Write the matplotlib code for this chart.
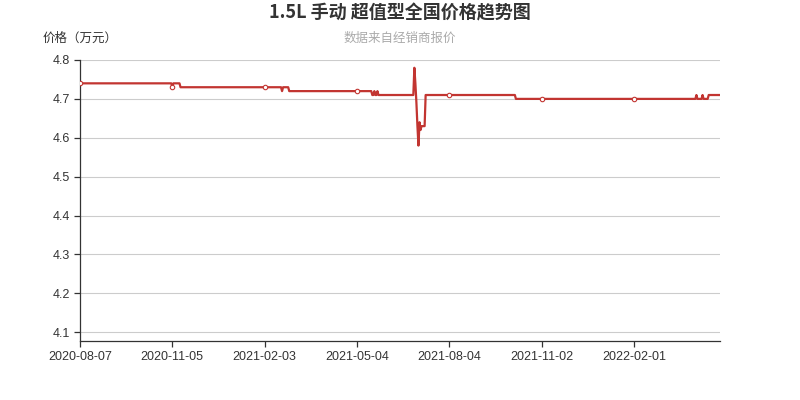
import numpy as np
import matplotlib
matplotlib.use("Agg")
import matplotlib.pyplot as plt

plt.rcParams["font.family"] = ["Liberation Sans", "Noto Sans CJK SC", "DejaVu Sans"]

g_title = "1.5L 手动 超值型全国价格趋势图"
g_subtitle = "数据来自经销商报价"
g_ylabel = "价格（万元）"

# price runs: value held for a number of consecutive days (category points)
run_prices = [4.74, 4.73, 4.74, 4.73, 4.72, 4.73, 4.72, 4.71, 4.72, 4.71, 4.72, 4.71,
              4.78, 4.74, 4.69, 4.63, 4.58, 4.64, 4.62, 4.63, 4.71,
              4.70, 4.71, 4.70, 4.71, 4.70, 4.71]
run_days = [90, 1, 7, 99, 1, 6, 81, 2, 1, 2, 1, 35,
            1, 1, 1, 1, 1, 1, 1, 4, 88,
            176, 1, 5, 1, 5, 12]

tick_labels = ["2020-08-07", "2020-11-05", "2021-02-03", "2021-05-04",
               "2021-08-04", "2021-11-02", "2022-02-01"]
tick_step = 90

y_ticks = [4.1, 4.2, 4.3, 4.4, 4.5, 4.6, 4.7, 4.8]

g_color = "#c23531"
g_text = "#333333"


def main():
    prices = np.repeat(run_prices, run_days)
    idx = np.arange(len(prices))

    fig = plt.figure(figsize=(8, 4), dpi=100)
    ax = fig.add_axes([0.1, 0.1475, 0.8, 0.7025])

    ax.plot(idx, prices, color=g_color, lw=1.6, zorder=3, solid_joinstyle="round")
    mk = idx[::tick_step]
    ax.plot(mk, prices[mk], linestyle="none", marker="o", markersize=3.2,
            markerfacecolor="white", markeredgecolor=g_color, markeredgewidth=0.8, zorder=4)

    ax.set_xlim(0, len(prices) - 1)
    ax.set_ylim(4.0776, 4.8)

    ax.set_xticks(np.arange(len(tick_labels)) * tick_step)
    ax.set_xticklabels(tick_labels)
    ax.set_yticks(y_ticks)
    ax.set_yticklabels(["%.1f" % v for v in y_ticks])

    ax.grid(axis="y", color="#cccccc", lw=0.8, zorder=0)
    ax.grid(axis="x", visible=False)
    for s in ["top", "right"]:
        ax.spines[s].set_visible(False)
    for s in ["left", "bottom"]:
        ax.spines[s].set_color(g_text)
        ax.spines[s].set_linewidth(0.9)
    ax.tick_params(axis="both", colors=g_text, labelcolor=g_text, labelsize=9,
                   length=4, width=0.9, direction="out", pad=3)

    fig.text(0.5, 0.968, g_title, ha="center", va="center", fontsize=13,
             fontweight="bold", color=g_text, family=["Noto Sans CJK SC", "DejaVu Sans"])
    fig.text(0.5, 0.905, g_subtitle, ha="center", va="center", fontsize=9,
             color="#aaaaaa", family=["Noto Sans CJK SC", "DejaVu Sans"])
    fig.text(0.1, 0.905, g_ylabel, ha="center", va="center", fontsize=9,
             color=g_text, family=["Noto Sans CJK SC", "DejaVu Sans"])

    fig.savefig("out.png", dpi=100)


if __name__ == "__main__":
    main()
